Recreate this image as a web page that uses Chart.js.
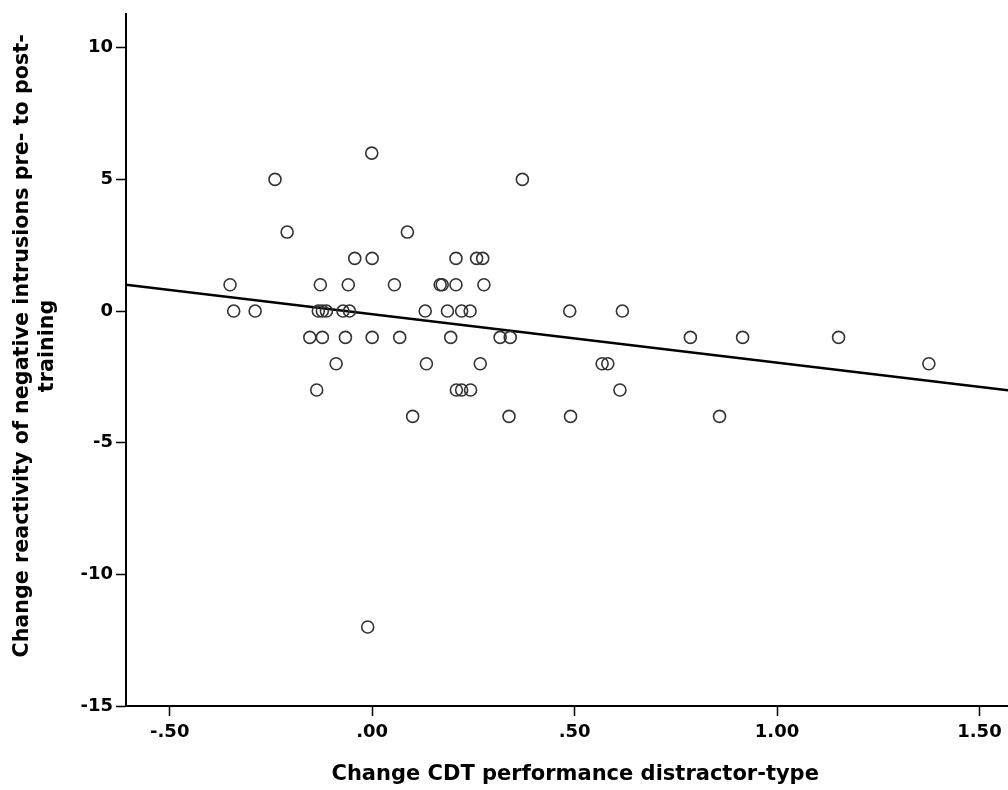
<!DOCTYPE html>
<html lang="en">
<head>
<meta charset="utf-8">
<title>Change CDT performance distractor-type</title>
<script src="https://cdn.jsdelivr.net/npm/chart.js@4.4.0/dist/chart.umd.min.js"></script>
<style>
    html, body { margin: 0; padding: 0; background: #fff; overflow: hidden; }
    #contenedor { width: 1032px; height: 790px; }
</style>
</head>
<body>
<div id="contenedor"><canvas id="graficoDispersion" width="1032" height="790"></canvas></div>
<script>
// ============================================
// DATOS
// ============================================

// Eje X: cambio en rendimiento CDT (tipo distractor), fila por fila según Y
const cambioCDT = [
    -0.001,                                                                     // 6
    -0.240, 0.371,                                                              // 5
    -0.210, 0.087,                                                              // 3
    -0.043, 0.000, 0.207, 0.258, 0.273,                                         // 2
    -0.351, -0.128, -0.059, 0.055, 0.168, 0.173, 0.207, 0.276,                  // 1
    -0.342, -0.289, -0.133, -0.123, -0.113, -0.072, -0.056, 0.131, 0.186,
     0.221, 0.242, 0.488, 0.618,                                                // 0
    -0.154, -0.123, -0.066, 0.000, 0.068, 0.194, 0.316, 0.341, 0.786, 0.915,
     1.152,                                                                     // -1
    -0.089, 0.134, 0.267, 0.568, 0.582, 1.375,                                  // -2
    -0.137, 0.208, 0.221, 0.243, 0.612,                                         // -3
     0.100, 0.338, 0.490, 0.858,                                                // -4
    -0.011                                                                      // -12
];

// Eje Y: cambio de reactividad de intrusiones negativas (pre a post)
const cambioReactividad = [
    6,
    5, 5,
    3, 3,
    2, 2, 2, 2, 2,
    1, 1, 1, 1, 1, 1, 1, 1,
    0, 0, 0, 0, 0, 0, 0, 0, 0,
    0, 0, 0, 0,
    -1, -1, -1, -1, -1, -1, -1, -1, -1, -1,
    -1,
    -2, -2, -2, -2, -2, -2,
    -3, -3, -3, -3, -3,
    -4, -4, -4, -4,
    -12
];

// Recta de ajuste lineal
const rectaX = [-0.608, 1.611];
const rectaPendiente = -1.84;
const rectaIntercepto = -0.12;

// Marcas de los ejes
const ticksX = [-0.5, 0, 0.5, 1.0, 1.5];
const etiquetasX = ['-.50', '.00', '.50', '1.00', '1.50'];
const ticksY = [-15, -10, -5, 0, 5, 10];
const etiquetasY = ['-15', '-10', '-5', '0', '5', '10'];

const tituloX = 'Change CDT performance distractor-type';
const tituloY = ['Change reactivity of negative intrusions pre- to post-', 'training'];

// ============================================
// CONSTRUCCIÓN DEL GRÁFICO
// ============================================

const puntos = cambioCDT.map((x, i) => ({ x: x, y: cambioReactividad[i] }));
const recta = rectaX.map(x => ({ x: x, y: rectaIntercepto + rectaPendiente * x }));

const fuenteTicks = { family: 'DejaVu Sans', weight: 'bold', size: 18 };
const fuenteTitulo = { family: 'DejaVu Sans', weight: 'bold', size: 21, lineHeight: 1.2 };

/**
 * Título del eje Y en dos líneas (SPSS lo centra un poco más arriba que el área)
 */
const pluginTituloY = {
    id: 'tituloEjeY',
    afterDraw(chart) {
        const { ctx, chartArea } = chart;
        const centroY = (chartArea.top + chartArea.bottom) / 2 - 14;
        ctx.save();
        ctx.fillStyle = '#000';
        ctx.font = `bold 20.7px "${fuenteTitulo.family}"`;
        ctx.textAlign = 'center';
        ctx.textBaseline = 'middle';
        tituloY.forEach((linea, i) => {
            ctx.save();
            ctx.translate(23 + i * 25, centroY);
            ctx.rotate(-Math.PI / 2);
            ctx.fillText(linea, 0, 0);
            ctx.restore();
        });
        ctx.restore();
    }
};

const ctx = document.getElementById('graficoDispersion');

new Chart(ctx, {
    type: 'scatter',
    data: {
        datasets: [
            {
                label: 'Observados',
                data: puntos,
                pointStyle: 'circle',
                pointRadius: 6,
                pointBorderWidth: 1.6,
                pointBorderColor: '#333',
                pointBackgroundColor: 'rgba(0, 0, 0, 0)'
            },
            {
                label: 'Ajuste lineal',
                type: 'line',
                data: recta,
                borderColor: '#000',
                borderWidth: 2.5,
                pointRadius: 0,
                fill: false
            }
        ]
    },
    options: {
        responsive: false,
        animation: false,
        layout: {
            padding: { top: 12, right: 0, left: 0, bottom: 0 }
        },
        plugins: {
            legend: { display: false },
            tooltip: { enabled: false }
        },
        scales: {
            x: {
                type: 'linear',
                min: -0.608,
                max: 1.611,
                afterFit: (scale) => {
                    scale.height = 84;
                    scale.paddingLeft = 0;
                    scale.paddingRight = 0;
                },
                afterBuildTicks: (scale) => { scale.ticks = ticksX.map(v => ({ value: v })); },
                ticks: {
                    color: '#000',
                    font: fuenteTicks,
                    padding: 6,
                    autoSkip: false,
                    maxRotation: 0,
                    callback: (valor, indice) => etiquetasX[indice]
                },
                grid: {
                    drawOnChartArea: false,
                    drawTicks: true,
                    tickLength: 10,
                    tickColor: '#000',
                    tickWidth: 1.5
                },
                border: { display: true, color: '#000', width: 2 },
                title: {
                    display: true,
                    text: tituloX,
                    color: '#000',
                    font: fuenteTitulo,
                    padding: { top: 0, bottom: 3 }
                }
            },
            y: {
                type: 'linear',
                min: -15,
                max: 11.29,
                afterFit: (scale) => { scale.width = 126; },
                afterBuildTicks: (scale) => { scale.ticks = ticksY.map(v => ({ value: v })); },
                ticks: {
                    color: '#000',
                    font: fuenteTicks,
                    padding: 3,
                    autoSkip: false,
                    callback: (valor, indice) => etiquetasY[indice]
                },
                grid: {
                    drawOnChartArea: false,
                    drawTicks: true,
                    tickLength: 10,
                    tickColor: '#000',
                    tickWidth: 1.5
                },
                border: { display: true, color: '#000', width: 2 },
                title: { display: false }
            }
        }
    },
    plugins: [pluginTituloY]
});
</script>
</body>
</html>
